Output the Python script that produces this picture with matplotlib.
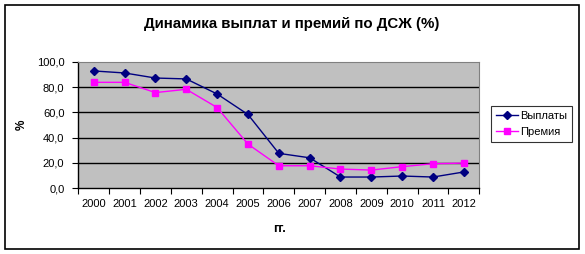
import matplotlib
matplotlib.use("Agg")
import matplotlib.pyplot as plt
from matplotlib.patches import Rectangle
from matplotlib.ticker import FixedLocator, FuncFormatter

plt.rcParams['font.family'] = ['Liberation Sans', 'DejaVu Sans']

years = ["2000", "2001", "2002", "2003", "2004", "2005", "2006",
         "2007", "2008", "2009", "2010", "2011", "2012"]
payouts = [92.7, 91.1, 87.1, 86.4, 74.5, 58.3, 27.6, 24.1, 8.9, 8.9, 9.7, 8.9, 12.9]
premiums = [83.7, 83.7, 75.6, 78.2, 63.8, 34.9, 17.8, 17.8, 15.2, 14.4, 17.1, 19.4, 19.9]
title = "Динамика выплат и премий по ДСЖ (%)"
series_names = ["Выплаты", "Премия"]
xlabel = "гг."
ylabel = "%"

W, H = 585, 254
fig = plt.figure(figsize=(W / 100, H / 100), dpi=100)

# outer border
fig.patches.append(Rectangle((5.3 / W, 1 - 249.3 / H), 574 / W, 244 / H,
                             transform=fig.transFigure, fill=False,
                             edgecolor='black', linewidth=1.2))

left, right, top, bottom = 78.3, 479.3, 61.7, 188.3
ax = fig.add_axes([left / W, 1 - bottom / H, (right - left) / W, (bottom - top) / H])
ax.set_facecolor('#C0C0C0')

x = list(range(len(years)))
ax.plot(x, payouts, color='#000080', marker='D', markersize=4, linewidth=1.0,
        label=series_names[0], zorder=3)
ax.plot(x, premiums, color='#FF00FF', marker='s', markersize=4.5, linewidth=1.0,
        label=series_names[1], zorder=3)

ax.set_xlim(-0.5, len(years) - 0.5)
ax.set_ylim(0, 100)

ax.yaxis.set_major_locator(FixedLocator([0, 20, 40, 60, 80, 100]))
ax.yaxis.set_major_formatter(FuncFormatter(lambda v, p: f"{v:.1f}".replace('.', ',')))
for yv in [20, 40, 60, 80]:
    ax.axhline(yv, color='black', linewidth=1.0, zorder=1)

ax.xaxis.set_major_locator(FixedLocator([i - 0.5 for i in range(len(years) + 1)]))
ax.xaxis.set_major_formatter(FuncFormatter(lambda v, p: ""))
ax.xaxis.set_minor_locator(FixedLocator(x))
ax.set_xticklabels(years, minor=True)
ax.tick_params(axis='x', which='major', length=4, width=0.8, direction='out')
ax.tick_params(axis='x', which='minor', length=0, pad=8, labelsize=8)
ax.tick_params(axis='y', which='major', length=4, width=0.8, direction='out', pad=6, labelsize=8)

for s in ['top', 'right']:
    ax.spines[s].set_color('#808080')
    ax.spines[s].set_linewidth(0.8)
for s in ['left', 'bottom']:
    ax.spines[s].set_color('black')
    ax.spines[s].set_linewidth(1.0)

fig.text(292 / W, 1 - 24 / H, title, ha='center', va='center',
         fontsize=10.8, fontweight='bold')
fig.text(22 / W, 1 - 125 / H, ylabel, ha='center', va='center', rotation=90,
         fontsize=8.5, fontweight='bold')
fig.text(279 / W, 1 - 229 / H, xlabel, ha='center', va='center',
         fontsize=9, fontweight='bold')

leg = fig.legend(loc='upper left', bbox_to_anchor=(490.7 / W, 1 - 105.7 / H),
                 bbox_transform=fig.transFigure, borderaxespad=0,
                 fontsize=8, frameon=True, fancybox=False, shadow=False,
                 handlelength=2.0, handletextpad=0.2, borderpad=0.45,
                 labelspacing=0.55)
leg.get_frame().set_edgecolor('black')
leg.get_frame().set_linewidth(0.8)

fig.savefig("out.png", dpi=100)
